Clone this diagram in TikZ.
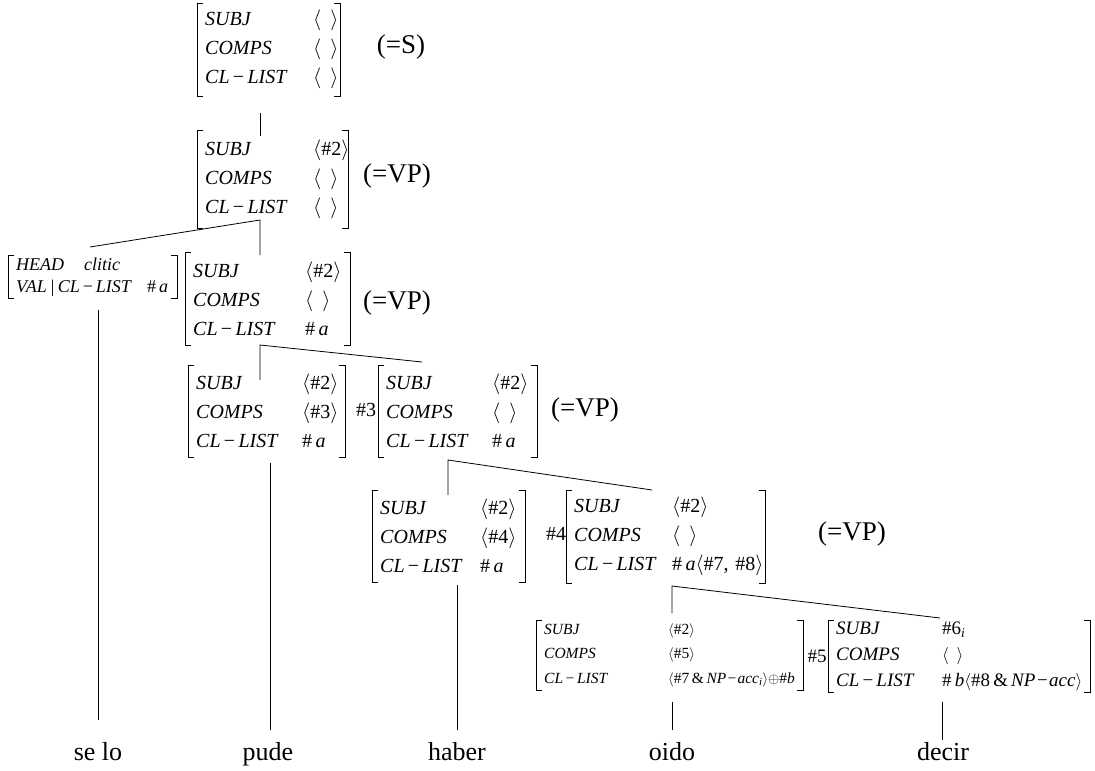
\documentclass[tikz,border=0pt]{standalone}
\usepackage{fontspec}
\setmainfont{Liberation Serif}
\newcommand\angempty{$\langle\;\,\rangle$}
\newcommand\angl[1]{$\langle$#1$\rangle$}
\newcommand\RW[3]{\mbox{\makebox[#1][l]{\itshape #2}#3}}
\newcommand\MINUS{\,{\upshape −}\,}
\newcommand\TMINUS{\kern0.08em{\upshape −}\kern0.08em}
\tikzset{
  avm/.style={anchor=north west, inner xsep=8pt, inner ysep=0pt, align=left},
  big/.style={font=\fontsize{20}{29}\selectfont},
  lbl/.style={font=\fontsize{27}{30}\selectfont, inner sep=0pt},
  word/.style={font=\fontsize{26}{30}\selectfont, inner sep=0pt, anchor=base},
  tag/.style={font=\fontsize{20}{24}\selectfont, inner sep=0pt},
  brk/.style={line width=0.8pt},
  tree/.style={line width=0.8pt},
}
\newcommand\AVM[7]{% name, x, y, text width, height, style, content
  \node[avm,#6, text width=#4pt, minimum height=#5pt] (#1) at (#2,#3) {#7};
  \draw[brk] ([xshift=6pt]#1.north west) -- (#1.north west) -- (#1.south west) -- ([xshift=6pt]#1.south west);
  \draw[brk] ([xshift=-6pt]#1.north east) -- (#1.north east) -- (#1.south east) -- ([xshift=-6pt]#1.south east);
}
\begin{document}
\begin{tikzpicture}[x=1pt,y=-1pt]
\useasboundingbox (0,0) rectangle (1095,771);

% S
\AVM{m1}{197}{3}{127}{93}{big}{\RW{108pt}{SUBJ}{\angempty}\\\RW{108pt}{COMPS}{\angempty}\\\RW{108pt}{CL\MINUS LIST}{\angempty}}
\node[lbl] (s1) at (401,47) {(=S)};

% VP 1
\AVM{m2}{197}{130}{135}{98}{big}{\RW{108pt}{SUBJ}{\angl{\#2}}\\\RW{108pt}{COMPS}{\angempty}\\\RW{108pt}{CL\MINUS LIST}{\angempty}}
\node[lbl] (s2) at (397,176) {(=VP)};

% clitic
\AVM{cl}{8}{255}{153}{43}{font=\fontsize{18}{22}\selectfont}{\mbox{\textit{HEAD}\hspace{20pt}\textit{clitic}}\\\mbox{\textit{VAL\,|\,CL\MINUS LIST}\hspace{15pt}\#\,\textit{a}}}

% VP 2
\AVM{m3}{185}{252}{149}{93}{big}{\RW{112pt}{SUBJ}{\angl{\#2}}\\\RW{112pt}{COMPS}{\angempty}\\\RW{112pt}{CL\MINUS LIST}{\#\,\textit{a}}}
\node[lbl] (s3) at (397,303) {(=VP)};

% pude / VP 3
\AVM{m4a}{188}{365}{141}{92}{big}{\RW{106pt}{SUBJ}{\angl{\#2}}\\\RW{106pt}{COMPS}{\angl{\#3}}\\\RW{106pt}{CL\MINUS LIST}{\#\,\textit{a}}}
\node[tag] (t3) at (366,410) {\#3};
\AVM{m4b}{378}{365}{143}{92}{big}{\RW{106pt}{SUBJ}{\angl{\#2}}\\\RW{106pt}{COMPS}{\angempty}\\\RW{106pt}{CL\MINUS LIST}{\#\,\textit{a}}}
\node[lbl] (s4) at (585,410) {(=VP)};

% haber / VP 4
\AVM{m5a}{372}{490}{137}{92}{big}{\RW{100pt}{SUBJ}{\angl{\#2}}\\\RW{100pt}{COMPS}{\angl{\#4}}\\\RW{100pt}{CL\MINUS LIST}{\#\,\textit{a}}}
\node[tag] (t4) at (556,534) {\#4};
\AVM{m5b}{566}{490}{183}{93}{big}{\RW{98pt}{SUBJ}{\angl{\#2}}\\\RW{98pt}{COMPS}{\angempty}\\\RW{98pt}{CL\MINUS LIST}{\#\,\textit{a}\angl{\#7, \#8}}}
\node[lbl] (s5) at (852,534) {(=VP)};

% oido / decir
\AVM{m6a}{536}{620}{251}{70}{font=\fontsize{15.5}{24.5}\selectfont}{\RW{124pt}{SUBJ}{\angl{\#2}}\\\RW{124pt}{COMPS}{\angl{\#5}}\\\RW{124pt}{CL\MINUS LIST}{\angl{\#7\,\&\,\textit{NP\TMINUS acc}\textsubscript{\textit{i}}}$\oplus$\#\textit{b}}}
\node[font=\fontsize{19}{24}\selectfont, inner sep=0pt] (t5) at (817,656) {\#5};
\AVM{m6b}{828}{620}{246}{72}{font=\fontsize{19}{26}\selectfont}{\RW{106pt}{SUBJ}{\#6\textsubscript{\textit{i}}}\\\RW{106pt}{COMPS}{\angempty}\\\RW{106pt}{CL\MINUS LIST}{\#\,\textit{b}\angl{\#8\,\&\,\textit{NP\TMINUS acc}}}}

% words
\node[word] (w1) at (98,760) {se lo};
\node[word] (w2) at (268,760) {pude};
\node[word] (w3) at (457,760) {haber};
\node[word] (w4) at (672,760) {oido};
\node[word] (w5) at (943,760) {decir};

% tree
\coordinate (a0) at (260,113); \coordinate (a1) at (260,136);
\draw[tree] (a0) -- (a1);
\coordinate (b0) at (260,220); \coordinate (b1) at (90,247); \coordinate (b2) at (260,255);
\draw[tree] (b1) -- (b0) -- (b2);
\coordinate (c0) at (260,345); \coordinate (c1) at (260,380); \coordinate (c2) at (422,362);
\draw[tree] (c1) -- (c0) -- (c2);
\coordinate (d0) at (448,460); \coordinate (d1) at (448,495); \coordinate (d2) at (652,490);
\draw[tree] (d1) -- (d0) -- (d2);
\coordinate (e0) at (672,586); \coordinate (e1) at (672,613); \coordinate (e2) at (940,618);
\draw[tree] (e1) -- (e0) -- (e2);

% leaves
\coordinate (l1) at (98,310); \coordinate (k1) at (98,720);
\coordinate (l2) at (270,463); \coordinate (k2) at (270,730);
\coordinate (l3) at (457,585); \coordinate (k3) at (457,730);
\coordinate (l4) at (672,702); \coordinate (k4) at (672,730);
\coordinate (l5) at (942,702); \coordinate (k5) at (942,740);
\foreach \i in {1,...,5} {\draw[tree] (l\i) -- (k\i);}
\end{tikzpicture}
\end{document}
